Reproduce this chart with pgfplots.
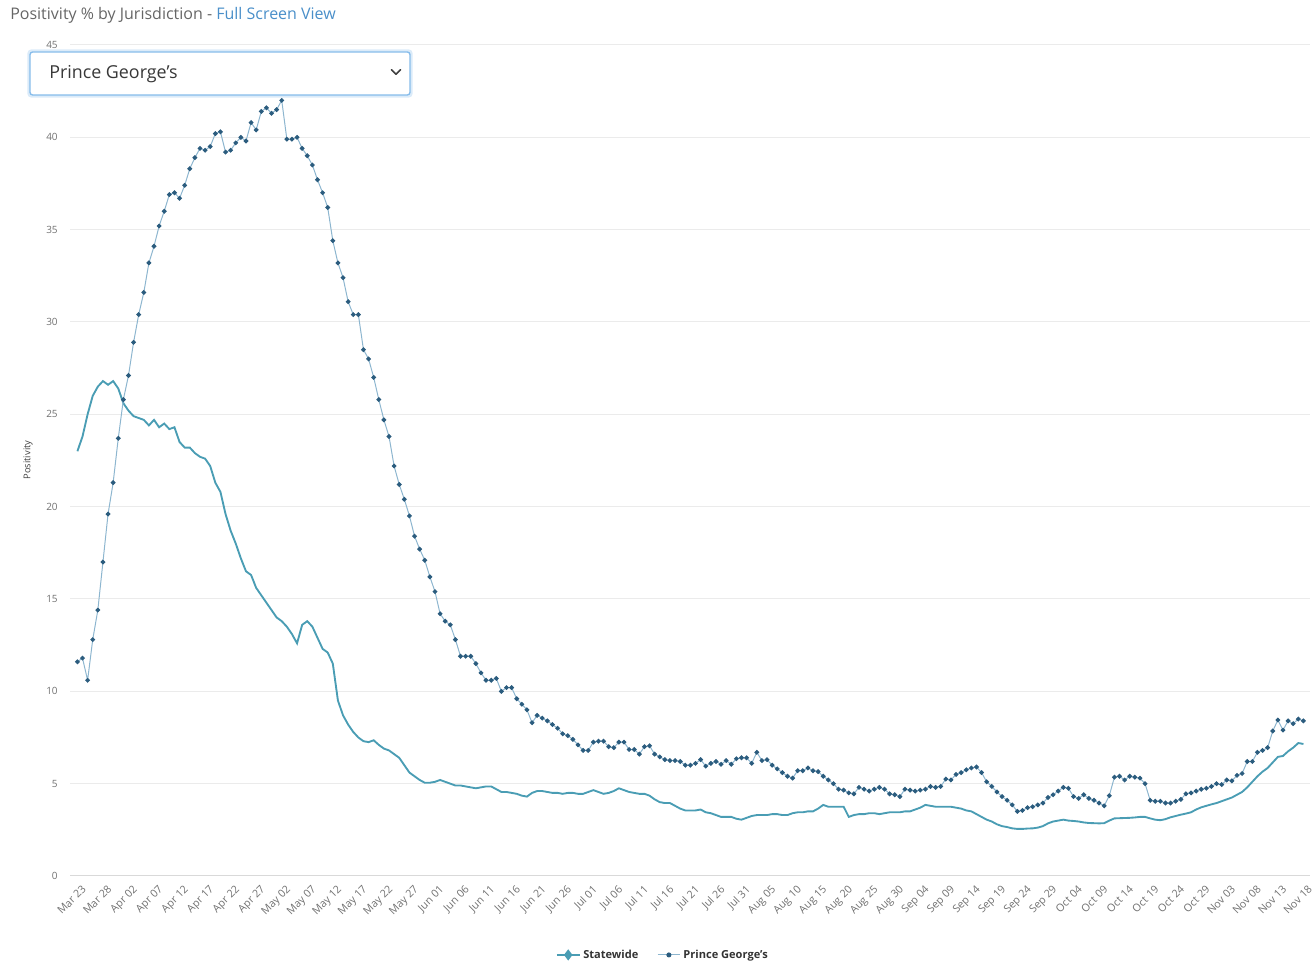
\documentclass[border=0pt]{standalone}
\usepackage{pgfplots}
\pgfplotsset{compat=1.18}
\usepackage{pgfplotstable}
\usepackage{fontspec}
\setmainfont{Open Sans}

\definecolor{swteal}{HTML}{4A9DB4}
\definecolor{pgline}{HTML}{8DB6CF}
\definecolor{pgmark}{HTML}{2B5C7E}
\definecolor{gridgray}{HTML}{EBEBEB}
\definecolor{basegray}{HTML}{D9D9D9}
\definecolor{ticktext}{HTML}{707070}
\definecolor{titlegray}{HTML}{666666}
\definecolor{linkblue}{HTML}{4A8FC9}
\definecolor{boxblue}{HTML}{86BCEB}
\definecolor{legtext}{HTML}{333333}

% Daily positivity (%), day 0 = Mar 23
\pgfplotstableread{
day v
0 23.0
1 23.8
2 25.0
3 26.0
4 26.5
5 26.8
6 26.6
7 26.8
8 26.4
9 25.6
10 25.2
11 24.9
12 24.8
13 24.7
14 24.4
15 24.7
16 24.3
17 24.5
18 24.2
19 24.3
20 23.5
21 23.2
22 23.2
23 22.9
24 22.7
25 22.6
26 22.2
27 21.3
28 20.8
29 19.6
30 18.7
31 18.0
32 17.2
33 16.5
34 16.3
35 15.6
36 15.2
37 14.8
38 14.4
39 14.0
40 13.8
41 13.5
42 13.1
43 12.6
44 13.6
45 13.8
46 13.5
47 12.9
48 12.3
49 12.1
50 11.5
51 9.5
52 8.7
53 8.2
54 7.8
55 7.5
56 7.3
57 7.25
58 7.35
59 7.1
60 6.9
61 6.8
62 6.6
63 6.4
64 6.0
65 5.6
66 5.4
67 5.2
68 5.05
69 5.05
70 5.1
71 5.2
72 5.1
73 5.0
74 4.9
75 4.9
76 4.85
77 4.8
78 4.75
79 4.8
80 4.85
81 4.85
82 4.7
83 4.55
84 4.55
85 4.5
86 4.45
87 4.35
88 4.3
89 4.5
90 4.6
91 4.6
92 4.55
93 4.5
94 4.5
95 4.45
96 4.5
97 4.5
98 4.45
99 4.45
100 4.55
101 4.65
102 4.55
103 4.45
104 4.5
105 4.6
106 4.75
107 4.65
108 4.55
109 4.5
110 4.45
111 4.45
112 4.35
113 4.15
114 4.0
115 3.95
116 3.95
117 3.8
118 3.65
119 3.55
120 3.55
121 3.55
122 3.6
123 3.45
124 3.4
125 3.3
126 3.2
127 3.2
128 3.2
129 3.1
130 3.05
131 3.15
132 3.25
133 3.3
134 3.3
135 3.3
136 3.35
137 3.35
138 3.3
139 3.3
140 3.4
141 3.45
142 3.45
143 3.5
144 3.5
145 3.65
146 3.85
147 3.75
148 3.75
149 3.75
150 3.75
151 3.2
152 3.3
153 3.35
154 3.35
155 3.4
156 3.4
157 3.35
158 3.4
159 3.45
160 3.45
161 3.45
162 3.5
163 3.5
164 3.6
165 3.7
166 3.85
167 3.8
168 3.75
169 3.75
170 3.75
171 3.75
172 3.7
173 3.65
174 3.55
175 3.5
176 3.35
177 3.2
178 3.05
179 2.95
180 2.8
181 2.7
182 2.65
183 2.58
184 2.55
185 2.55
186 2.57
187 2.58
188 2.62
189 2.7
190 2.85
191 2.95
192 3.0
193 3.05
194 3.0
195 2.98
196 2.95
197 2.9
198 2.87
199 2.86
200 2.85
201 2.86
202 3.0
203 3.12
204 3.13
205 3.14
206 3.15
207 3.17
208 3.2
209 3.2
210 3.12
211 3.05
212 3.02
213 3.08
214 3.18
215 3.25
216 3.32
217 3.38
218 3.45
219 3.6
220 3.72
221 3.8
222 3.88
223 3.95
224 4.05
225 4.15
226 4.25
227 4.4
228 4.55
229 4.8
230 5.1
231 5.4
232 5.65
233 5.85
234 6.15
235 6.45
236 6.5
237 6.75
238 6.95
239 7.2
240 7.15
}\statewide

\pgfplotstableread{
day v
0 11.6
1 11.8
2 10.6
3 12.8
4 14.4
5 17.0
6 19.6
7 21.3
8 23.7
9 25.8
10 27.1
11 28.9
12 30.4
13 31.6
14 33.2
15 34.1
16 35.2
17 36.0
18 36.9
19 37.0
20 36.7
21 37.4
22 38.3
23 38.9
24 39.4
25 39.3
26 39.5
27 40.2
28 40.3
29 39.2
30 39.3
31 39.7
32 40.0
33 39.8
34 40.8
35 40.4
36 41.4
37 41.6
38 41.3
39 41.5
40 42.0
41 39.9
42 39.9
43 40.0
44 39.4
45 39.0
46 38.5
47 37.7
48 37.0
49 36.2
50 34.4
51 33.2
52 32.4
53 31.1
54 30.4
55 30.4
56 28.5
57 28.0
58 27.0
59 25.8
60 24.7
61 23.8
62 22.2
63 21.2
64 20.4
65 19.5
66 18.4
67 17.7
68 17.1
69 16.2
70 15.4
71 14.2
72 13.8
73 13.6
74 12.8
75 11.9
76 11.9
77 11.9
78 11.5
79 11.0
80 10.6
81 10.6
82 10.7
83 10.0
84 10.2
85 10.2
86 9.6
87 9.3
88 9.0
89 8.3
90 8.7
91 8.55
92 8.4
93 8.2
94 8.0
95 7.7
96 7.6
97 7.4
98 7.1
99 6.8
100 6.8
101 7.25
102 7.3
103 7.3
104 7.0
105 6.95
106 7.25
107 7.25
108 6.85
109 6.85
110 6.6
111 7.0
112 7.05
113 6.6
114 6.45
115 6.3
116 6.25
117 6.25
118 6.2
119 6.0
120 6.0
121 6.1
122 6.3
123 5.95
124 6.1
125 6.2
126 6.05
127 6.25
128 6.05
129 6.35
130 6.4
131 6.4
132 6.1
133 6.7
134 6.25
135 6.3
136 6.0
137 5.8
138 5.6
139 5.4
140 5.3
141 5.7
142 5.7
143 5.85
144 5.7
145 5.65
146 5.4
147 5.2
148 5.0
149 4.7
150 4.65
151 4.5
152 4.45
153 4.8
154 4.7
155 4.6
156 4.7
157 4.8
158 4.7
159 4.45
160 4.4
161 4.3
162 4.7
163 4.65
164 4.6
165 4.65
166 4.7
167 4.85
168 4.8
169 4.85
170 5.25
171 5.2
172 5.5
173 5.6
174 5.75
175 5.85
176 5.9
177 5.6
178 5.1
179 4.85
180 4.55
181 4.3
182 4.1
183 3.85
184 3.5
185 3.55
186 3.7
187 3.75
188 3.85
189 3.95
190 4.25
191 4.4
192 4.6
193 4.8
194 4.75
195 4.3
196 4.2
197 4.4
198 4.2
199 4.1
200 3.95
201 3.8
202 4.35
203 5.35
204 5.4
205 5.2
206 5.4
207 5.35
208 5.3
209 5.0
210 4.1
211 4.05
212 4.05
213 3.95
214 3.95
215 4.05
216 4.15
217 4.45
218 4.5
219 4.6
220 4.7
221 4.75
222 4.85
223 5.0
224 4.95
225 5.2
226 5.15
227 5.45
228 5.55
229 6.2
230 6.2
231 6.7
232 6.8
233 6.95
234 7.85
235 8.45
236 7.9
237 8.4
238 8.25
239 8.5
240 8.4
}\princegeorges

\begin{document}
\begin{tikzpicture}[x=1pt,y=1pt]
\useasboundingbox (0,0) rectangle (987,724.5);

\begin{axis}[
  at={(52.8pt,67.5pt)}, anchor=south west,
  scale only axis, width=930pt, height=623.25pt,
  xmin=-1.37, xmax=241.37, ymin=0, ymax=45,
  axis line style={draw=none},
  major tick length=0pt,
  ymajorgrids, grid style={gridgray, line width=0.75pt},
  extra y ticks={0}, extra y tick labels={},
  extra y tick style={grid style={basegray, line width=0.75pt}},
  ytick={0,5,...,45},
  xtick={0,5,...,240},
  xticklabels={Mar 23,Mar 28,Apr 02,Apr 07,Apr 12,Apr 17,Apr 22,Apr 27,
    May 02,May 07,May 12,May 17,May 22,May 27,Jun 01,Jun 06,Jun 11,Jun 16,
    Jun 21,Jun 26,Jul 01,Jul 06,Jul 11,Jul 16,Jul 21,Jul 26,Jul 31,Aug 05,
    Aug 10,Aug 15,Aug 20,Aug 25,Aug 30,Sep 04,Sep 09,Sep 14,Sep 19,Sep 24,
    Sep 29,Oct 04,Oct 09,Oct 14,Oct 19,Oct 24,Oct 29,Nov 03,Nov 08,Nov 13,Nov 18},
  /pgf/number format/assume math mode=true,
  tick label style={font=\fontsize{7.5}{9}\selectfont, text=ticktext},
  xticklabel style={font=\fontsize{8}{9}\selectfont, rotate=45, anchor=north east,
    inner sep=0.5pt, yshift=-6pt, xshift=-2pt},
  yticklabel style={anchor=east, xshift=-6pt},
  legend style={at={(0.478,-0.095)}, anchor=center, draw=none, fill=none,
    legend columns=2, font=\fontsize{8.3}{9}\selectfont\bfseries, text=legtext,
    /tikz/every even column/.append style={column sep=12pt}},
  legend cell align=left,
]
\addlegendimage{swteal, line width=1.5pt, mark=diamond*, mark size=3pt}
\addlegendentry{Statewide}
\addlegendimage{pgline, line width=0.75pt, mark=*, mark size=1.5pt, mark options={draw=pgmark, fill=pgmark}}
\addlegendentry{Prince George's}

\addplot[swteal, line width=1.4pt, forget plot] table[x=day, y=v] {\statewide};
\addplot[pgline, line width=0.75pt, mark=*, mark size=1.4pt,
  mark options={draw=pgmark, fill=pgmark}, forget plot] table[x=day, y=v] {\princegeorges};
\end{axis}

% header line
\node[anchor=west, inner sep=0, font=\fontsize{12}{14}\selectfont, text=titlegray]
  at (7.5,713.25) {Positivity \% by Jurisdiction - \textcolor{linkblue}{Full Screen View}};

% jurisdiction selector
\fill[boxblue!30, rounded corners=3pt] (20.5,651.25) rectangle (309.5,687.5);
\draw[boxblue, line width=1pt, fill=white, rounded corners=2pt] (22.5,653.25) rectangle (307.5,685.5);
\node[anchor=west, inner sep=0, font=\fontsize{13.4}{15}\selectfont, text=black!78]
  at (36.75,669) {Prince George's};
\draw[black!75, line width=1.3pt, line cap=round, line join=round]
  (293.6,672.2) -- (297,668.8) -- (300.4,672.2);

% y axis title
\node[rotate=90, inner sep=0, font=\fontsize{7}{8}\selectfont, text=black!75] at (21,379.5) {Positivity};
\end{tikzpicture}
\end{document}
